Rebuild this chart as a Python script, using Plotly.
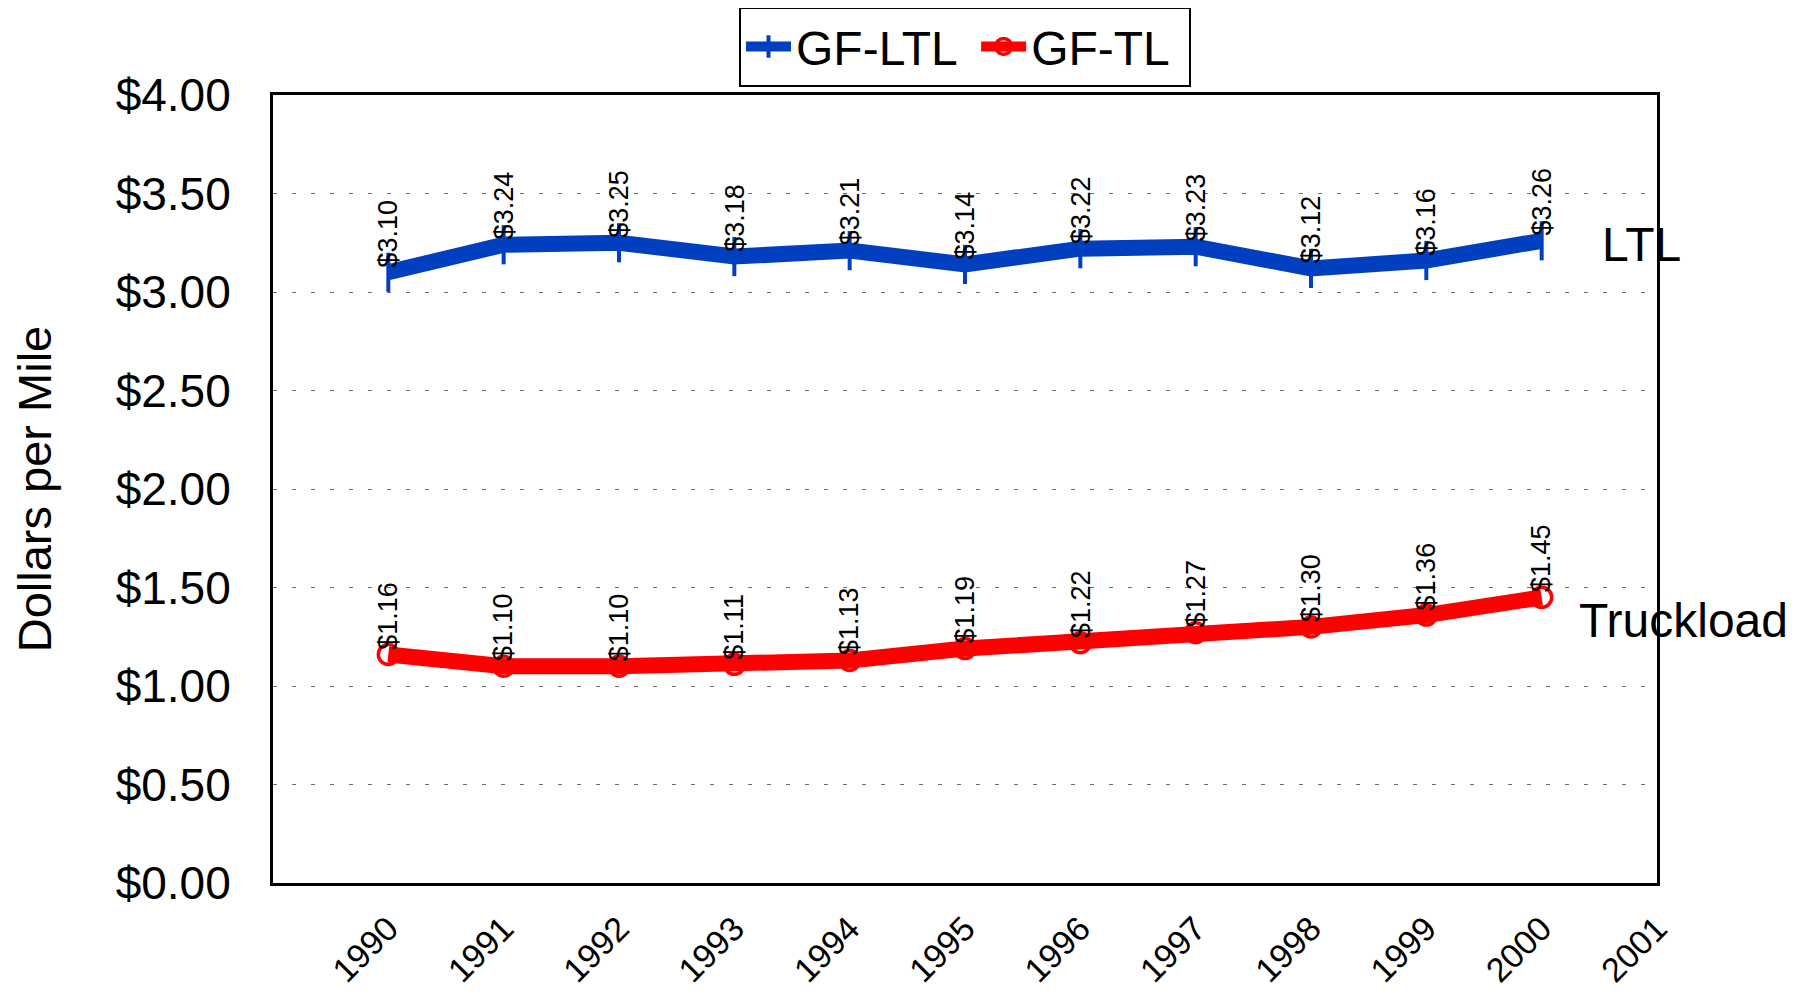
import plotly.graph_objects as go

years = [1990, 1991, 1992, 1993, 1994, 1995, 1996, 1997, 1998, 1999, 2000]
axis_years = [1990, 1991, 1992, 1993, 1994, 1995, 1996, 1997, 1998, 1999, 2000, 2001]
ltl = [3.10, 3.24, 3.25, 3.18, 3.21, 3.14, 3.22, 3.23, 3.12, 3.16, 3.26]
tl = [1.16, 1.10, 1.10, 1.11, 1.13, 1.19, 1.22, 1.27, 1.30, 1.36, 1.45]
y_ticks = [0, 0.5, 1, 1.5, 2, 2.5, 3, 3.5, 4]

BLUE = "rgb(0,64,192)"
RED = "rgb(255,0,0)"
FONT = "Liberation Sans, Arial, sans-serif"

fig = go.Figure()

fig.add_trace(go.Scatter(
    x=years, y=ltl, name="GF-LTL\u00a0", mode="lines+markers",
    line=dict(color=BLUE, width=16),
    marker=dict(symbol="line-ns", size=28, color=BLUE,
                line=dict(color=BLUE, width=4)),
))
fig.add_trace(go.Scatter(
    x=years, y=tl, name="GF-TL\u00a0", mode="lines+markers",
    line=dict(color=RED, width=16),
    marker=dict(symbol="circle-open", size=20, color=RED,
                line=dict(color=RED, width=3.5)),
))

# vertical value labels above each point
for series in (ltl, tl):
    for x, v in zip(years, series):
        fig.add_annotation(
            x=x, y=v, text="${:.2f}".format(v), showarrow=False,
            textangle=-90, xanchor="center", yanchor="bottom", yshift=3,
            font=dict(family=FONT, size=27, color="black"),
        )

# series names at the right edge
fig.add_annotation(x=0.989, xref="paper", y=3.24, xanchor="center",
                   text="LTL", showarrow=False,
                   font=dict(family=FONT, size=48, color="black"))
fig.add_annotation(x=1.019, xref="paper", y=1.335, xanchor="center",
                   text="Truckload", showarrow=False,
                   font=dict(family=FONT, size=48, color="black"))

# page body adds an 8px margin, so the figure is made 8px smaller
fig.update_layout(
    width=1802, height=986,
    margin=dict(l=265, r=153, t=87, b=111, autoexpand=False),
    paper_bgcolor="white", plot_bgcolor="white",
    font=dict(family=FONT, color="black"),
    showlegend=True,
    legend=dict(
        orientation="h", x=0.5, xanchor="center", y=1.112, yanchor="top",
        font=dict(family=FONT, size=48, color="black"),
        bgcolor="white", bordercolor="black", borderwidth=2,
        itemwidth=45, tracegroupgap=0,
    ),
    xaxis=dict(
        range=[1989, 2001], tickvals=axis_years,
        ticktext=[str(y) for y in axis_years],
        tickangle=-45, tickfont=dict(family=FONT, size=34, color="black"),
        ticks="", ticklabelstandoff=9, automargin=False,
        showgrid=False, zeroline=False,
        showline=True, linecolor="black", linewidth=3, mirror=True,
    ),
    yaxis=dict(
        range=[0, 4], tickvals=y_ticks,
        ticktext=["${:.2f}".format(t) for t in y_ticks],
        tickfont=dict(family=FONT, size=46, color="black"),
        ticks="", ticklabelstandoff=30, automargin=False,
        showgrid=True, gridcolor="rgb(110,110,110)", gridwidth=1,
        griddash="4px,15px", zeroline=False,
        showline=True, linecolor="black", linewidth=3, mirror=True,
        title=dict(text="Dollars per Mile", standoff=67,
                   font=dict(family=FONT, size=47, color="black")),
    ),
)

fig.write_html("out.html")
